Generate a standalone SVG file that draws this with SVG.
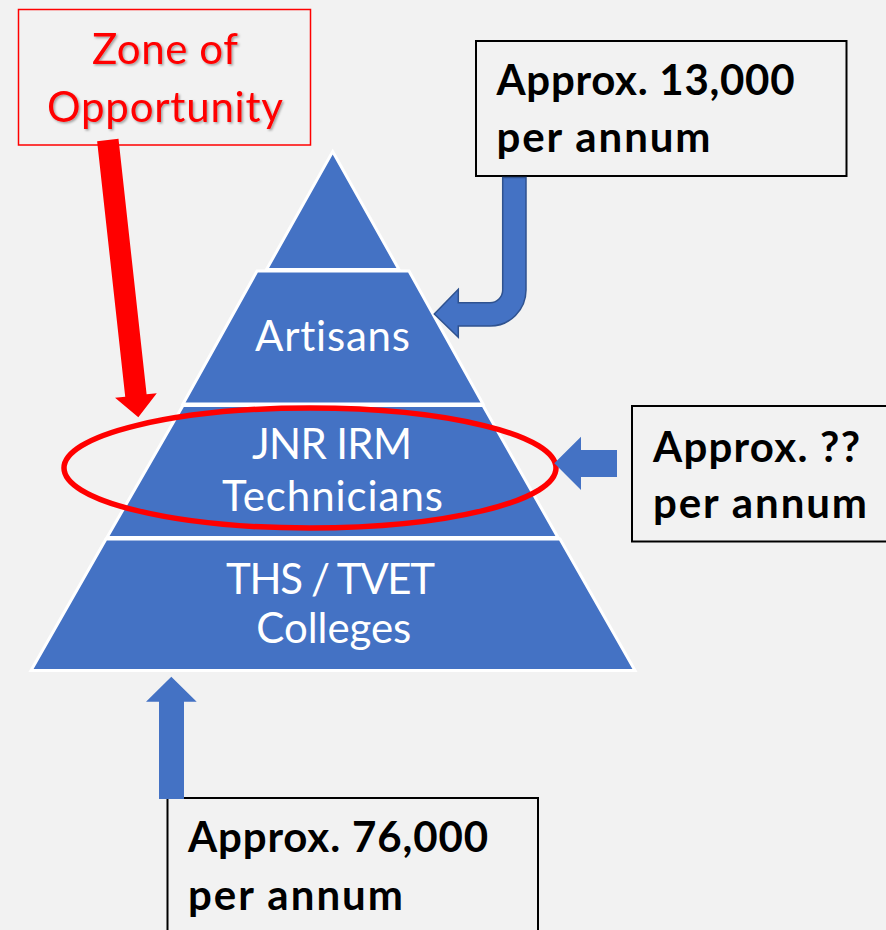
<svg xmlns="http://www.w3.org/2000/svg" width="886" height="930" viewBox="0 0 886 930">
  <defs>
    <style>
      text { font-variant-ligatures: none; font-feature-settings: "liga" 0, "clig" 0; }
      .layer { fill: #4472C4; stroke: #FFFFFF; stroke-width: 3; stroke-linejoin: miter; }
      .ltxt { font-family: Lato, "Liberation Sans", Arial, sans-serif; font-size: 42px; fill: #FFFFFF; text-anchor: middle; }
      .box { fill: #F2F2F2; stroke: #000000; stroke-width: 2; }
      .btxt { font-family: Lato, "Liberation Sans", Arial, sans-serif; font-size: 42px; font-weight: bold; fill: #000000; }
      .zbox { fill: #F2F2F2; stroke: #FF0000; stroke-width: 1.5; }
      .ztxt { font-family: Lato, "Liberation Sans", Arial, sans-serif; font-size: 42px; fill: #FF0000; text-anchor: middle; }
      .blue { fill: #4472C4; }
      .bent { fill: #4472C4; stroke: #2F528F; stroke-width: 1.5; stroke-linejoin: miter; }
      .red { fill: #FF0000; }
    </style>
    <filter id="shadow" x="-10%" y="-10%" width="130%" height="140%">
      <feDropShadow dx="1.5" dy="1.5" stdDeviation="1" flood-color="#000000" flood-opacity="0.35"/>
    </filter>
  </defs>
  <rect x="0" y="0" width="886" height="930" fill="#F2F2F2"/>

  <g id="pyramid-top">
    <polygon class="layer" points="332.7,151.5 399,269.5 266.5,269.5"/>
  </g>
  <g id="layer-artisans">
    <polygon class="layer" points="257,271 409,271 483,404 183,404"/>
    <text class="ltxt" x="332.5" y="351" textLength="155">Artisans</text>
  </g>
  <g id="layer-jnr">
    <polygon class="layer" points="183,405.5 483,405.5 558,537.5 107,537.5"/>
    <text class="ltxt" x="332" y="459" textLength="160">JNR IRM</text>
    <text class="ltxt" x="332.5" y="510.5" textLength="221">Technicians</text>
  </g>
  <g id="layer-ths">
    <polygon class="layer" points="106,539 560,539 635,670.5 31,670.5"/>
    <text class="ltxt" x="330.5" y="593.5" textLength="209">THS / TVET</text>
    <text class="ltxt" x="333.8" y="643" textLength="155">Colleges</text>
  </g>

  <g id="zone-highlight">
    <ellipse cx="310" cy="468" rx="246" ry="60" fill="none" stroke="#FF0000" stroke-width="5.5"/>
  </g>

  <g id="zone-of-opportunity">
    <rect class="zbox" x="18.5" y="9.5" width="292" height="135.5"/>
    <g filter="url(#shadow)">
      <text class="ztxt" x="165" y="63.5" textLength="146">Zone of</text>
      <text class="ztxt" x="165" y="121.5" textLength="236">Opportunity</text>
    </g>
  </g>

  <g id="box-13000">
    <rect class="box" x="476" y="41" width="370.5" height="135"/>
    <text class="btxt" x="496.5" y="94.5" textLength="298">Approx. 13,000</text>
    <text class="btxt" x="496.5" y="151.5" textLength="214">per annum</text>
  </g>

  <g id="box-unknown">
    <rect class="box" x="632" y="406" width="270" height="135.5"/>
    <text class="btxt" x="653" y="461.5" textLength="207">Approx. ??</text>
    <text class="btxt" x="653" y="518" textLength="214">per annum</text>
  </g>

  <g id="box-76000">
    <rect class="box" x="167.5" y="798" width="370.5" height="150"/>
    <text class="btxt" x="188" y="851.5" textLength="300">Approx. 76,000</text>
    <text class="btxt" x="188" y="910" textLength="215">per annum</text>
  </g>

  <g id="connectors">
    <polygon class="red" transform="translate(107.8,140) rotate(-6.28)" points="-10.75,0 10.75,0 10.75,257 21,257 0,279 -21,257 -10.75,257"/>
    <path class="bent" d="M502.7,177.5 L526,177.5 L526,290 A36,36 0 0 1 490,326 L458.3,326 L458.3,337.3 L434.3,314 L458.3,289.3 L458.3,302.7 L490,302.7 A12.7,12.7 0 0 0 502.7,290 Z"/>
    <polygon class="blue" points="617,450 581,450 581,436.7 554.3,463.3 581,490 581,477 617,477"/>
    <polygon class="blue" points="159,799 159,701.7 146,701.7 171.3,676.7 196.7,701.7 184,701.7 184,799"/>
  </g>
</svg>
